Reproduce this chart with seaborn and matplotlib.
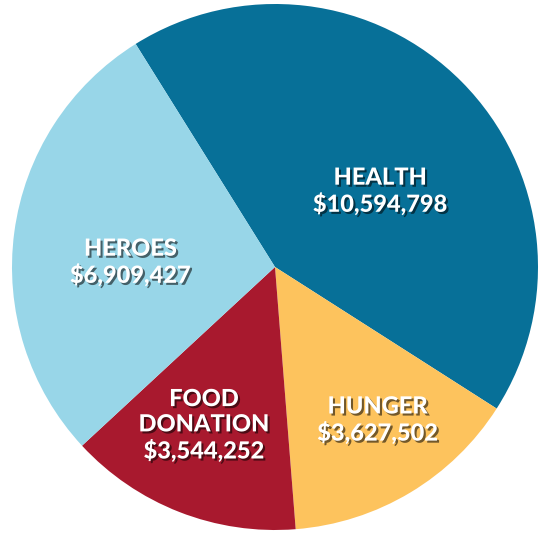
import matplotlib
matplotlib.use("Agg")
import matplotlib.pyplot as plt
import matplotlib.patheffects as pe
import seaborn as sns

# data
categories = ["HEALTH", "HUNGER", "FOOD\nDONATION", "HEROES"]
amounts = [10594798, 3627502, 3544252, 6909427]
colors = ["#077098", "#FDC35D", "#A8192E", "#98D6E8"]

# label positions (axes coords, pie radius = 1)
label_xy = [(0.40, 0.29), (0.39, -0.58), (-0.27, -0.60), (-0.55, 0.02)]

sns.set_theme(style="white")
plt.rcParams["font.family"] = ["Lato", "DejaVu Sans"]

fig = plt.figure(figsize=(5.48, 5.33), dpi=100)
ax = fig.add_axes([12 / 548, 3 / 533, 526 / 548, 526 / 533])

ax.pie(amounts, colors=sns.color_palette(colors), startangle=122,
       counterclock=False, radius=1.0,
       wedgeprops=dict(linewidth=0))
ax.set_xlim(-1, 1)
ax.set_ylim(-1, 1)
ax.set_aspect("auto")
ax.axis("off")

shadow = [pe.SimplePatchShadow(offset=(1.5, -1.5), shadow_rgbFace="black", alpha=0.55),
          pe.Normal()]
for name, val, (x, y) in zip(categories, amounts, label_xy):
    ax.text(x, y, f"{name}\n${val:,}", ha="center", va="center",
            color="white", fontsize=17, fontweight=900,
            linespacing=1.12, path_effects=shadow)

fig.savefig("out.png", dpi=100)
